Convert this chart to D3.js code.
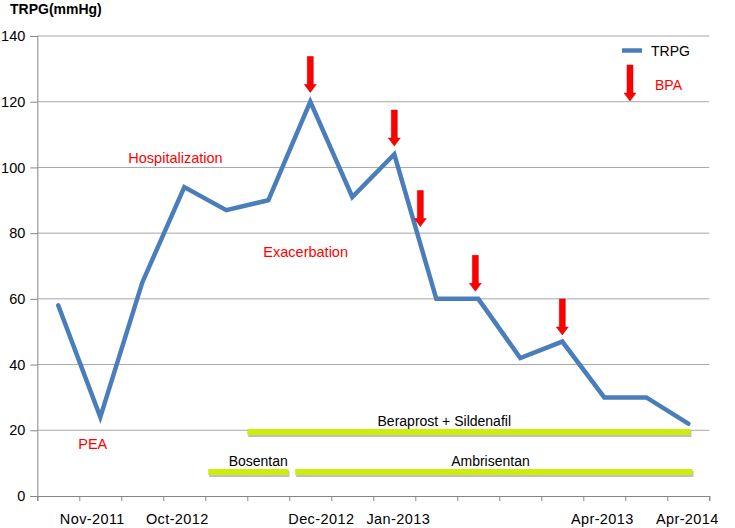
<!DOCTYPE html>
<html>
<head>
<meta charset="utf-8">
<script src="https://cdn.jsdelivr.net/npm/d3@7"></script>
<style>
  body { margin: 0; background: #fff; }
  svg { display: block; font-family: "Liberation Sans", Arial, sans-serif; }
</style>
</head>
<body>
<div id="chart"></div>
<script>
// --- data ---
const categories = ["", "Nov-2011", "", "Oct-2012", "", "", "Dec-2012", "", "Jan-2013",
                    "", "", "", "", "Apr-2013", "", "Apr-2014"];
const trpg = [58, 24, 65, 94, 87, 90, 120, 91, 104, 60, 60, 42, 47, 30, 30, 22];
const yTicks = [0, 20, 40, 60, 80, 100, 120, 140];

// BPA arrows: position on the category axis (index units) and value the tip points at
const bpaAt = [6, 8, 8.62, 9.93, 12];
const bpaTip = [122.8, 106.5, 82, 62.3, 49];

// treatment periods (index units) and the level they sit at
const treatNames = ["Beraprost + Sildenafil", "Bosentan", "Ambrisentan"];
const treatFrom = [4.5, 3.57, 5.64];
const treatTo = [15.05, 5.48, 15.1];
const treatLevel = [19.5, 7.3, 7.3];
const treatLabelAt = [9.19, 4.76, 10.29];

// red annotations
const noteTexts = ["Hospitalization", "Exacerbation", "PEA"];
const noteAt = [2.79, 5.89, 0.82];
const noteValue = [101.3, 72.7, 14.3];

// --- layout ---
const width = 735, height = 528;
const plot = { left: 37.3, right: 709.3, top: 36, bottom: 496 };
const labelNudge = { "Nov-2011": -8, "Oct-2012": -7, "Dec-2012": 11, "Jan-2013": 4, "Apr-2013": -2, "Apr-2014": -1 };
const lineColor = "#4a7ebb";
const axisColor = "#868686";
const gridColor = "#a6a6a6";
const limeColor = "#ccee0a";
const red = "#ff0000";

const svg = d3.select("#chart").append("svg")
  .attr("width", width)
  .attr("height", height);

const idx = d3.range(trpg.length);

// band scale for categories, linear for in-between positions
const xBand = d3.scaleBand().domain(idx).range([plot.left, plot.right]).padding(0);
const xPos = d3.scaleLinear().domain([-0.5, trpg.length - 0.5]).range([plot.left, plot.right]);
const y = d3.scaleLinear().domain([0, 140]).range([plot.bottom, plot.top]);

// gridlines
svg.append("g")
  .selectAll("line")
  .data(yTicks.filter(d => d > 0))
  .enter().append("line")
  .attr("x1", plot.left).attr("x2", plot.right)
  .attr("y1", d => y(d)).attr("y2", d => y(d))
  .attr("stroke", gridColor).attr("stroke-width", 1);

// y axis
const yAxis = svg.append("g")
  .attr("transform", `translate(${plot.left},0)`)
  .call(d3.axisLeft(y).tickValues(yTicks).tickSize(7).tickPadding(5));
yAxis.select(".domain").attr("stroke", axisColor);
yAxis.selectAll(".tick line").attr("stroke", axisColor);
yAxis.selectAll("text").style("font-size", "14.5px").attr("fill", "#000").attr("font-family", null);

// x axis: tick marks on category boundaries
const xTicks = svg.append("g")
  .attr("transform", `translate(0,${plot.bottom})`)
  .call(d3.axisBottom(xPos).tickValues(d3.range(-0.5, trpg.length, 1)).tickSize(5).tickFormat(""));
xTicks.select(".domain").attr("stroke", axisColor);
xTicks.selectAll(".tick line").attr("stroke", axisColor);

// x axis: labels in the middle of the categories
const xLabels = svg.append("g")
  .attr("transform", `translate(0,${plot.bottom})`)
  .call(d3.axisBottom(xBand).tickSize(0).tickPadding(18).tickFormat(i => categories[i]));
xLabels.select(".domain").remove();
xLabels.selectAll("text")
  .style("font-size", "14.5px").attr("fill", "#000").attr("font-family", null)
  .attr("letter-spacing", "0.4px")
  .attr("dx", i => labelNudge[categories[i]] || 0);

// treatment bars
const treat = svg.append("g").selectAll("g")
  .data(treatNames.map((name, i) => ({ name, from: treatFrom[i], to: treatTo[i], level: treatLevel[i], labelAt: treatLabelAt[i] })))
  .enter().append("g");
treat.append("line")
  .attr("x1", d => xPos(d.from) + 1).attr("x2", d => xPos(d.to) + 1)
  .attr("y1", d => y(d.level) + 2).attr("y2", d => y(d.level) + 2)
  .attr("stroke", "#8a8a8a").attr("stroke-opacity", 0.55).attr("stroke-width", 6);
treat.append("line")
  .attr("x1", d => xPos(d.from)).attr("x2", d => xPos(d.to))
  .attr("y1", d => y(d.level)).attr("y2", d => y(d.level))
  .attr("stroke", limeColor).attr("stroke-width", 6);
treat.append("text")
  .attr("x", d => xPos(d.labelAt))
  .attr("y", d => y(d.level) - 6)
  .attr("text-anchor", "middle")
  .style("font-size", "14px")
  .text(d => d.name);

// TRPG line
const line = d3.line()
  .x(i => xBand(i) + xBand.bandwidth() / 2)
  .y(i => y(trpg[i]));
svg.append("path")
  .datum(idx)
  .attr("fill", "none")
  .attr("stroke", lineColor)
  .attr("stroke-width", 4.5)
  .attr("stroke-linejoin", "miter")
  .attr("stroke-linecap", "round")
  .attr("d", line);

// BPA arrow shape, tip at (0,0)
function arrowPath(len) {
  const shaft = 3, head = 6, headH = 8;
  return `M${-shaft},${-len} L${shaft},${-len} L${shaft},${-headH} L${head},${-headH} L0,0 L${-head},${-headH} L${-shaft},${-headH} Z`;
}

svg.append("g").selectAll("path")
  .data(bpaAt.map((at, i) => ({ at, tip: bpaTip[i] })))
  .enter().append("path")
  .attr("transform", d => `translate(${xPos(d.at)},${y(d.tip)})`)
  .attr("d", arrowPath(36))
  .attr("fill", red)
  .attr("stroke", "#c00000").attr("stroke-width", 0.5);

// red annotations
svg.append("g").selectAll("text")
  .data(noteTexts.map((t, i) => ({ t, at: noteAt[i], v: noteValue[i] })))
  .enter().append("text")
  .attr("x", d => xPos(d.at))
  .attr("y", d => y(d.v))
  .attr("text-anchor", "middle")
  .attr("fill", red)
  .style("font-size", "14.5px")
  .text(d => d.t);

// legend
const legend = svg.append("g");
legend.append("line")
  .attr("x1", 622).attr("x2", 642).attr("y1", 50.5).attr("y2", 50.5)
  .attr("stroke", lineColor).attr("stroke-width", 4.5);
legend.append("text")
  .attr("x", 651).attr("y", 56)
  .style("font-size", "14px")
  .text("TRPG");
legend.append("path")
  .attr("transform", "translate(630,101)")
  .attr("d", arrowPath(36))
  .attr("fill", red)
  .attr("stroke", "#c00000").attr("stroke-width", 0.5);
legend.append("text")
  .attr("x", 655).attr("y", 90)
  .attr("fill", red)
  .style("font-size", "14px")
  .text("BPA");

// axis title
svg.append("text")
  .attr("x", 10).attr("y", 14)
  .style("font-size", "14px")
  .style("font-weight", "bold")
  .text("TRPG(mmHg)");
</script>
</body>
</html>
